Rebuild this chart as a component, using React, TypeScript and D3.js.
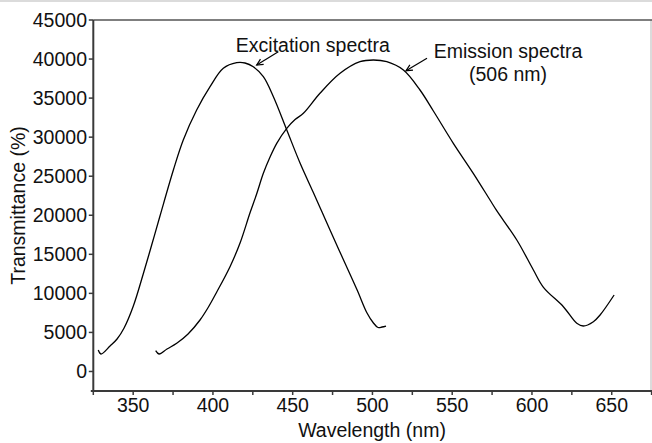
import React from "react";
import * as d3 from "d3";

const excitationNm = [328.1, 329.8, 335.5, 339.9, 344.3, 350.1, 356.3, 361.6, 366.8, 375.2, 381.4, 389.8, 398.2, 406.5, 414.9, 420.1, 425.3, 431.6, 437.9, 446.3, 454.6, 462.8, 468.4, 473.4, 481.6, 490.4, 496.6, 500.4, 503.5, 506, 508.5];
const excitationVal = [2749, 2237, 3261, 4158, 5566, 8383, 12480, 16192, 19905, 25795, 29636, 33477, 36460, 38816, 39533, 39494, 39021, 37740, 35180, 30916, 26691, 22978, 20417, 18113, 14400, 10431, 7486, 6270, 5630, 5694, 5822];

const emissionNm = [364.1, 366.2, 371.2, 377.3, 384.4, 391.9, 397, 402.4, 410.7, 417, 423.2, 427.4, 431.6, 435.8, 440, 446.3, 451.5, 456.7, 467.1, 479.7, 492.2, 500.6, 509, 519.4, 529.8, 538.2, 550.7, 563.2, 573.7, 577.9, 590.5, 600.9, 607.2, 619.7, 628.1, 632.2, 638.5, 642.7, 651.5];
const emissionVal = [2660, 2237, 2877, 3607, 4798, 6590, 8190, 10175, 13414, 16448, 20289, 22722, 25372, 27460, 29213, 31134, 32260, 33054, 35615, 38175, 39661, 39878, 39661, 38598, 36037, 33349, 29213, 25372, 21954, 20584, 16832, 12992, 10777, 8293, 6168, 5822, 6372, 7230, 9791];

const xTickMarks = [325, 350, 375, 400, 425, 450, 475, 500, 525, 550, 575, 600, 625, 650, 675];
const xTickLabels = [350, 400, 450, 500, 550, 600, 650];
const yTicks = [0, 5000, 10000, 15000, 20000, 25000, 30000, 35000, 40000, 45000];

const xTitle = "Wavelength (nm)";
const yTitle = "Transmittance (%)";
const excitationLabel = "Excitation spectra";
const emissionLabel = ["Emission spectra", "(506 nm)"];

const W = 652;
const H = 443;
const FONT = "'Liberation Sans', Arial, Helvetica, sans-serif";
const FS = 19.5;

export default function App() {
  const x = d3.scaleLinear().domain([325, 675]).range([93.3, 651.6]);
  const y = d3.scaleLinear().domain([-2500, 45000]).range([391, 20]);
  const line = d3
    .line<[number, number]>()
    .x((d) => x(d[0]))
    .y((d) => y(d[1]))
    .curve(d3.curveCatmullRom.alpha(0.5));

  const exc: [number, number][] = excitationNm.map((n, i) => [n, excitationVal[i]]);
  const emi: [number, number][] = emissionNm.map((n, i) => [n, emissionVal[i]]);

  const axisColor = "#3a3a3a";
  const x0 = x(325);
  const yTop = y(45000);
  const yBot = y(-2500);

  const arrow = (sx: number, sy: number, ex: number, ey: number) => {
    const ang = Math.atan2(ey - sy, ex - sx);
    const len = 7;
    const spread = 0.45;
    const a1 = ang + Math.PI - spread;
    const a2 = ang + Math.PI + spread;
    return (
      <g stroke="#000" strokeWidth={1.2} fill="none">
        <line x1={sx} y1={sy} x2={ex} y2={ey} />
        <polyline
          points={`${ex + len * Math.cos(a1)},${ey + len * Math.sin(a1)} ${ex},${ey} ${ex + len * Math.cos(a2)},${ey + len * Math.sin(a2)}`}
        />
      </g>
    );
  };

  return (
    <svg
      width={W}
      height={H}
      style={{ position: "fixed", left: 0, top: 0, background: "#fff" }}
      fontFamily={FONT}
    >
      <rect x={0} y={0} width={W} height={H} fill="#fff" />
      <line x1={0} y1={1} x2={W} y2={1} stroke="#cfcfcf" strokeWidth={1.5} />
      <line x1={651} y1={yTop} x2={651} y2={yBot} stroke="#cfcfcf" strokeWidth={1.5} />
      <line x1={x0} y1={yTop} x2={W} y2={yTop} stroke="#555" strokeWidth={1.5} />
      <line x1={x0} y1={yTop} x2={x0} y2={yBot} stroke={axisColor} strokeWidth={2} />
      {yTicks.map((t) => (
        <g key={t}>
          <line x1={x0 - 4.5} y1={y(t)} x2={x0} y2={y(t)} stroke={axisColor} strokeWidth={1.5} />
          <text x={87} y={y(t)} dy="0.36em" textAnchor="end" fontSize={FS} fill="#111">
            {t}
          </text>
        </g>
      ))}
      <line x1={x0 - 2.5} y1={yBot} x2={W} y2={yBot} stroke={axisColor} strokeWidth={2} />
      {xTickMarks.map((t) => (
        <line key={t} x1={x(t)} y1={yBot} x2={x(t)} y2={yBot + 4} stroke={axisColor} strokeWidth={1.5} />
      ))}
      {xTickLabels.map((t) => (
        <text key={t} x={x(t)} y={412} textAnchor="middle" fontSize={FS} fill="#111">
          {t}
        </text>
      ))}
      <text x={372} y={437} textAnchor="middle" fontSize={FS} fill="#111">
        {xTitle}
      </text>
      <text
        transform={`translate(25, ${(yTop + yBot) / 2}) rotate(-90)`}
        textAnchor="middle"
        fontSize={FS}
        fill="#111"
      >
        {yTitle}
      </text>
      <path d={line(exc) || ""} fill="none" stroke="#000" strokeWidth={1.3} />
      <path d={line(emi) || ""} fill="none" stroke="#000" strokeWidth={1.3} />
      <text x={312.8} y={51.7} textAnchor="middle" fontSize={FS} fill="#111">
        {excitationLabel}
      </text>
      {arrow(278.3, 51.7, 256.7, 65)}
      <text x={508} y={58.3} textAnchor="middle" fontSize={FS} fill="#111">
        {emissionLabel[0]}
      </text>
      <text x={508} y={81} textAnchor="middle" fontSize={FS} fill="#111">
        {emissionLabel[1]}
      </text>
      {arrow(427, 58.3, 406, 70.7)}
    </svg>
  );
}
